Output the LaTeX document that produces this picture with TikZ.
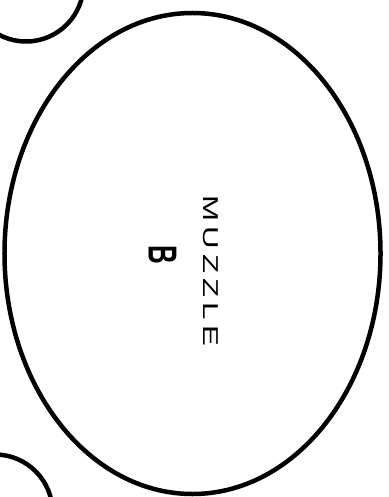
\documentclass[tikz,border=0pt]{standalone}
\usepackage{fontspec}
\setmainfont{Liberation Sans}
\usetikzlibrary{shapes.geometric}
\begin{document}
\begin{tikzpicture}[x=1bp,y=-1bp,
  outline/.style={draw=black,line width=4.5bp},
  lbl/.style={inner sep=0pt,outer sep=0pt,rotate=-90}]
\useasboundingbox (0,0) rectangle (388,497);
\clip (0,0) rectangle (388,497);
\fill[white] (0,0) rectangle (388,497);
\node[outline,ellipse,minimum width=376bp,minimum height=481bp,inner sep=0pt] (muzzle) at (192.5,253.5) {};
\node[outline,circle,minimum size=115bp,inner sep=0pt] (eartop) at (26,-16) {};
\node[outline,circle,minimum size=115bp,inner sep=0pt] (earbot) at (-5,512) {};
\node[lbl] (name) at (210.5,271) {\fontsize{21.5bp}{25bp}\selectfont\scalebox{1.45}[1]{M\kern3.5bp U\kern3.5bp Z\kern3.5bp Z\kern3.5bp L\kern3.5bp E}};
\node[lbl] (letter) at (162.5,255) {\fontsize{40.5bp}{45bp}\selectfont\bfseries\scalebox{0.64}[1]{B}};
\end{tikzpicture}
\end{document}
